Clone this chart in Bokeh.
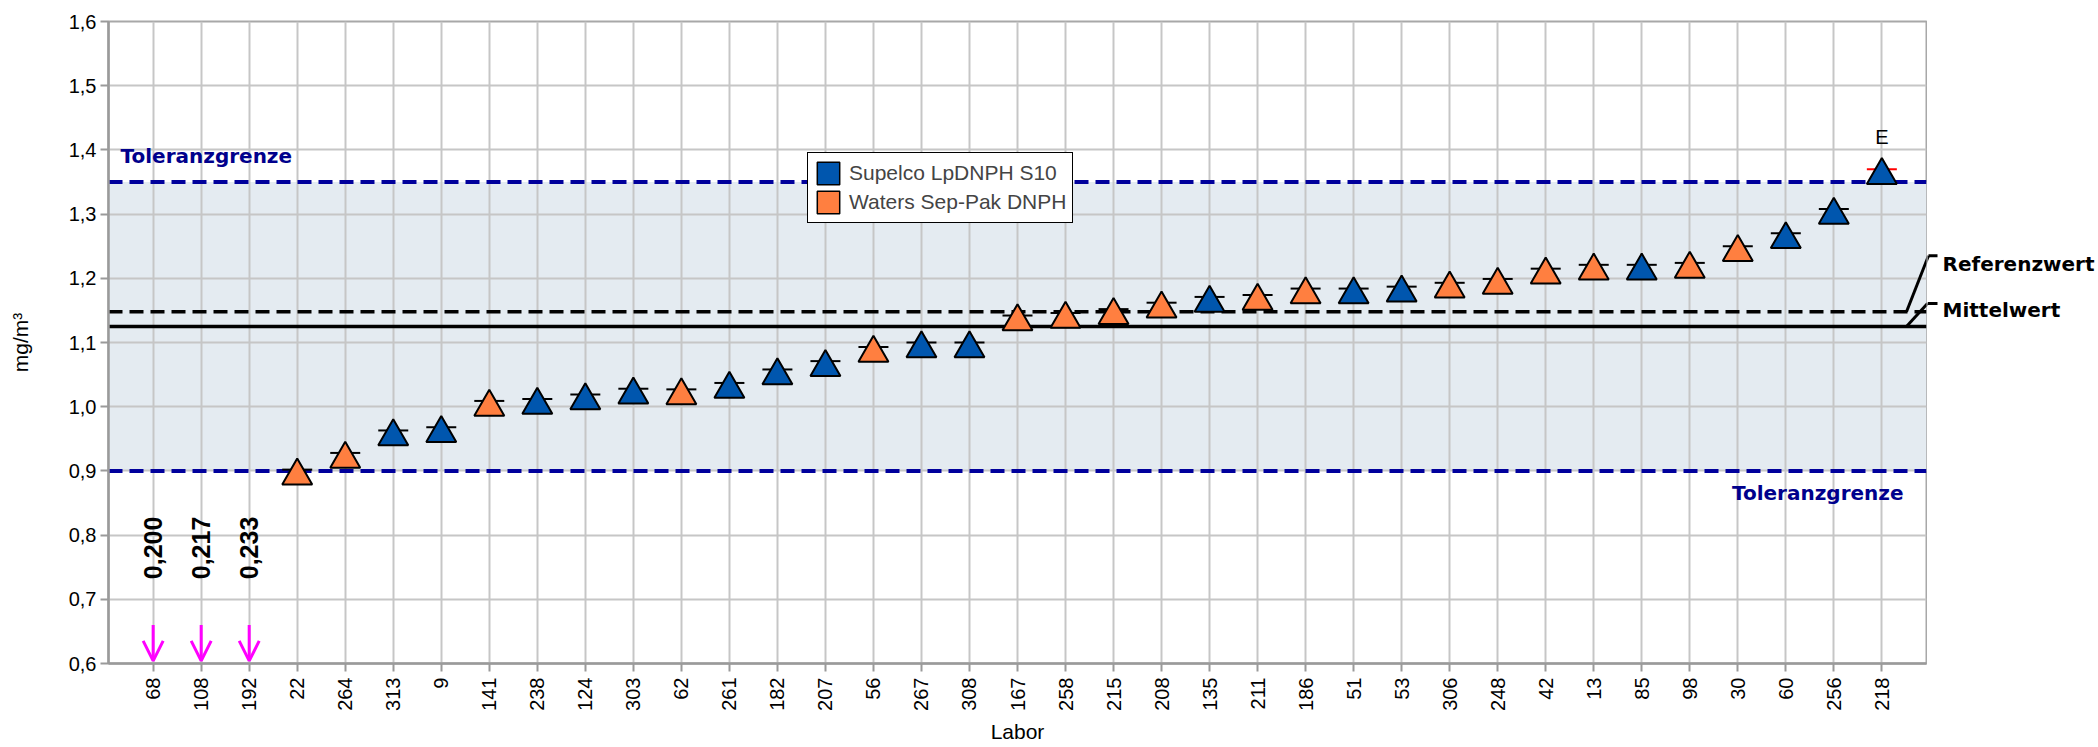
import math
from bokeh.plotting import figure
from bokeh.layouts import row
from bokeh.core.properties import value
from bokeh.models import (Range1d, FixedTicker, BoxAnnotation, Span, Label, LabelSet,
                          ColumnDataSource, Arrow, OpenHead, Legend, LegendItem)
from bokeh.transform import dodge
from bokeh.embed import file_html
from bokeh.resources import INLINE

# ---------------- data ----------------
labs = ["68", "108", "192", "22", "264", "313", "9", "141", "238", "124", "303", "62",
        "261", "182", "207", "56", "267", "308", "167", "258", "215", "208", "135",
        "211", "186", "51", "53", "306", "248", "42", "13", "85", "98", "30", "60",
        "256", "218"]
values = [0.200, 0.217, 0.233, 0.902, 0.928, 0.963, 0.968, 1.009, 1.012, 1.019, 1.028,
          1.027, 1.037, 1.058, 1.071, 1.093, 1.100, 1.100, 1.142, 1.146, 1.152, 1.162,
          1.171, 1.174, 1.184, 1.184, 1.187, 1.193, 1.199, 1.215, 1.221, 1.221, 1.224,
          1.250, 1.270, 1.308, 1.370]
methods = [None, None, None, "W", "W", "S", "S", "W", "S", "S", "S", "W",
           "S", "S", "S", "W", "S", "S", "W", "W", "W", "W", "S",
           "W", "W", "S", "S", "W", "W", "W", "W", "S", "W", "W", "S",
           "S", "S"]
method_names = {"S": "Supelco LpDNPH S10", "W": "Waters Sep-Pak DNPH"}
method_colors = {"S": "#0056AE", "W": "#FF7F40"}
y_ticks = [0.6, 0.7, 0.8, 0.9, 1.0, 1.1, 1.2, 1.3, 1.4, 1.5, 1.6]
upper_tol = 1.35
lower_tol = 0.90
ref_value = 1.148
mean_value = 1.125
y_min, y_max = 0.6, 1.6

# ---------------- layout geometry ----------------
W, H = 2098, 747
ML, MT, MB = 108, 21, 84
FRAME_RIGHT = 1926
MAIN_W = FRAME_RIGHT + 1
SIDE_W = W - MAIN_W
x0, x1 = -0.93, len(labs) - 1 + 0.93
px = (x1 - x0) / (FRAME_RIGHT - ML)          # data units per screen pixel (x)
yscale = (y_max - y_min) / (H - MT - MB)     # data units per screen pixel (y)

FONT = "Liberation Sans"
BFONT = "DejaVu Sans"

p = figure(width=MAIN_W, height=H, x_range=Range1d(x0, x1), y_range=Range1d(y_min, y_max),
           output_backend="svg", toolbar_location=None,
           min_border_left=ML, min_border_right=1, min_border_top=MT, min_border_bottom=MB)
p.background_fill_color = "white"
p.border_fill_color = "white"
p.outline_line_color = "#A8A8A8"
p.outline_line_width = 2

for ax in (p.xaxis[0], p.yaxis[0]):
    ax.axis_line_color = "#9A9A9A"
    ax.axis_line_width = 2.5
    ax.major_tick_line_color = "#9A9A9A"
    ax.major_tick_line_width = 2
    ax.major_tick_out = 8
    ax.major_tick_in = 0
    ax.minor_tick_line_color = None
    ax.major_label_text_font = FONT
    ax.major_label_text_font_size = "20px"
    ax.major_label_text_color = "black"
    ax.axis_label_text_font = FONT
    ax.axis_label_text_font_size = "21px"
    ax.axis_label_text_font_style = "normal"
    ax.axis_label_text_color = "black"

p.yaxis.ticker = FixedTicker(ticks=y_ticks)
p.yaxis.major_label_overrides = {t: f"{t:.1f}".replace(".", ",") for t in y_ticks}
p.yaxis.axis_label = "mg/m³"
p.yaxis.axis_label_standoff = 34
p.yaxis.major_label_standoff = 4

xt = list(range(len(labs)))
p.xaxis.ticker = FixedTicker(ticks=xt)
p.xaxis.major_label_overrides = {i: lab for i, lab in zip(xt, labs)}
p.xaxis.major_label_orientation = math.pi / 2
p.xaxis.axis_label = "Labor"
p.xaxis.major_label_standoff = 6
p.xaxis.axis_label_standoff = 6

p.xgrid.ticker = FixedTicker(ticks=xt)
p.ygrid.ticker = FixedTicker(ticks=y_ticks)
p.grid.grid_line_color = "#C6C6C6"
p.grid.grid_line_width = 2

# tolerance band and reference lines
p.add_layout(BoxAnnotation(bottom=lower_tol, top=upper_tol, fill_color="#E4EBF1",
                           fill_alpha=1, line_color=None, level="image"))
for loc in (upper_tol, lower_tol):
    p.add_layout(Span(location=loc, dimension="width", line_color="#00009C",
                      line_width=4, line_dash="14 7", level="underlay"))
p.add_layout(Span(location=ref_value, dimension="width", line_color="black",
                  line_width=3.5, line_dash="14 7", level="underlay"))
p.add_layout(Span(location=mean_value, dimension="width", line_color="black",
                  line_width=3.5, level="underlay"))

# ---------------- points ----------------
inside = [i for i, v in enumerate(values) if v >= y_min]
src = ColumnDataSource(dict(
    x=inside,
    y=[values[i] for i in inside],
    color=[method_colors[methods[i]] for i in inside],
    dash_color=["#FF0000" if values[i] > upper_tol else "black" for i in inside],
))
p.scatter(x="x", y="y", source=src, marker="dash", size=30, line_color="dash_color",
          line_width=2)
p.scatter(x="x", y=dodge("y", -0.0095), source=src, marker="triangle", size=30,
          fill_color="color", line_color="black", line_width=2)

# E flag for values above the tolerance limit
over = [i for i in inside if values[i] > upper_tol]
esrc = ColumnDataSource(dict(x=over, y=[values[i] for i in over], t=["E"] * len(over)))
p.add_layout(LabelSet(x="x", y="y", text="t", source=esrc, y_offset=32,
                      text_align="center", text_baseline="middle",
                      text_font=value(FONT), text_font_size=value("20px"),
                      text_color="black"))

# off-scale values: arrows and rotated labels
low = [i for i, v in enumerate(values) if v < y_min]
lsrc = ColumnDataSource(dict(
    x=low,
    y0=[y_min + 0.06] * len(low),
    y1=[y_min + 0.004] * len(low),
    ly=[0.78] * len(low),
    t=[f"{values[i]:.3f}".replace(".", ",") for i in low],
))
p.add_layout(Arrow(end=OpenHead(size=20, line_color="#FF00FF", line_width=3),
                   x_start="x", y_start="y0", x_end="x", y_end="y1",
                   line_color="#FF00FF", line_width=3, source=lsrc))
p.add_layout(LabelSet(x="x", y="ly", text="t", source=lsrc, angle=math.pi / 2,
                      text_align="center", text_baseline="middle",
                      text_font=value(FONT), text_font_style=value("bold"),
                      text_font_size=value("25px"), text_color="black"))

# tolerance labels
p.add_layout(Label(x=x0, y=upper_tol, x_offset=12, y_offset=26, text="Toleranzgrenze",
                   text_baseline="middle", text_font=BFONT, text_font_style="bold",
                   text_font_size="20px", text_color="#00008C"))
p.add_layout(Label(x=x1, y=lower_tol, x_offset=-23, y_offset=-22, text="Toleranzgrenze",
                   text_align="right", text_baseline="middle", text_font=BFONT,
                   text_font_style="bold", text_font_size="20px", text_color="#00008C"))

# ---------------- side panel for reference / mean labels ----------------
side = figure(width=SIDE_W, height=H, x_range=Range1d(x1 + 1 * px, x1 + (SIDE_W + 1) * px),
              y_range=p.y_range, output_backend="svg", toolbar_location=None,
              x_axis_location=None, y_axis_location=None,
              min_border_left=0, min_border_right=0, min_border_top=MT, min_border_bottom=MB)
side.grid.visible = False
side.outline_line_color = None
side.background_fill_color = "white"
side.border_fill_color = "white"

for val, rise, lbl_rise, name in ((ref_value, 56, 48, "Referenzwert"),
                                  (mean_value, 23, 16, "Mittelwert")):
    xa = x1 - 20 * px
    xb = x1 + (2 if name == "Referenzwert" else 1) * px
    xc = x1 + 11 * px
    yb = val + rise * yscale
    for fig in (p, side):
        fig.add_layout(Arrow(end=None, x_start=xa, y_start=val, x_end=xb, y_end=yb,
                             line_color="black", line_width=3))
        fig.add_layout(Arrow(end=None, x_start=xb, y_start=yb, x_end=xc, y_end=yb,
                             line_color="black", line_width=3))
    side.add_layout(Label(x=x1, y=val, x_offset=16, y_offset=lbl_rise, text=name,
                          text_baseline="middle", text_font=BFONT, text_font_style="bold",
                          text_font_size="20px", text_color="black"))

# ---------------- legend ----------------
items = []
for key in ("S", "W"):
    r = p.quad(left=[float("nan")], right=[float("nan")], top=[float("nan")],
               bottom=[float("nan")], fill_color=method_colors[key],
               line_color="black", line_width=1.5)
    items.append(LegendItem(label=method_names[key], renderers=[r]))
legend = Legend(items=items, location=(699, 440), glyph_width=28, glyph_height=28,
                label_standoff=7, spacing=1, padding=6, margin=0,
                label_text_font=FONT, label_text_font_size="21px",
                border_line_color="black", border_line_width=1.5, border_line_alpha=1,
                background_fill_color="white", background_fill_alpha=1)
p.add_layout(legend)

layout = row(p, side, spacing=0)
open("out.html", "w").write(file_html(layout, INLINE))
